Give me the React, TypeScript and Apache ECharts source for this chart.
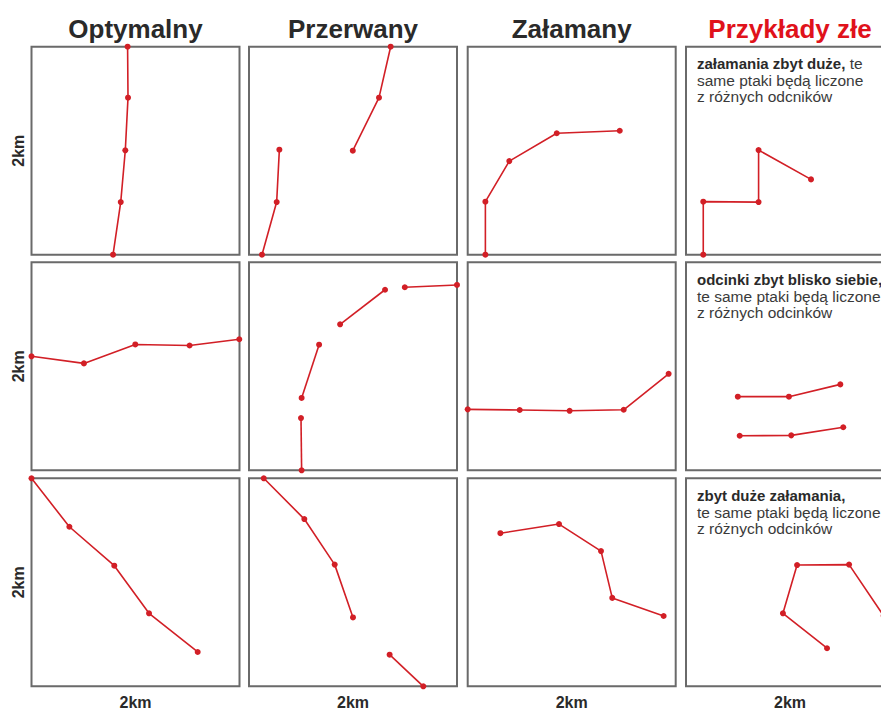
import React, { useEffect, useRef } from "react";
import * as echarts from "echarts";

const columnTitles = ["Optymalny", "Przerwany", "Załamany", "Przykłady złe"];
const axisLabel = "2km";

// Each panel: list of transect segments, points [x, y] in % of 2 km
const optimalTop = [[[46.2, 100], [46.4, 75.5], [45.1, 50.2], [42.9, 25.3], [39.2, 0]]];
const brokenTop = [
  [[68.1, 100], [62.5, 75.5], [49.9, 50]],
  [[14.6, 50.5], [13.3, 25.3], [6.25, 0]],
];
const bentTop = [[[8.5, 0], [8.5, 25.5], [20, 45], [42.8, 58.4], [73.1, 59.6]]];
const badTop = [[[8.3, 0], [8.3, 25.5], [34.9, 25.3], [34.9, 50.3], [60.1, 36.2]]];

const optimalMid = [[[0, 54.8], [25.2, 51.4], [49.9, 60.5], [76, 60], [99.9, 63]]];
const brokenMid = [
  [[25.3, 0], [25, 25.1]],
  [[25.3, 34.8], [33.7, 60.4]],
  [[43.8, 70.2], [65.4, 86.8]],
  [[74.9, 88], [100, 89.1]],
];
const bentMid = [[[0, 29.3], [25, 29], [49, 28.6], [75, 29.1], [96.6, 46.4]]];
const badMid = [
  [[24.9, 35.4], [49.5, 35.4], [74.2, 41.3]],
  [[25.8, 16.6], [50.6, 16.8], [75.6, 20.7]],
];

const optimalBot = [[[0, 100], [18.2, 76.7], [39.8, 58], [56.5, 35.1], [79.9, 16.5]]];
const brokenBot = [
  [[7.1, 100], [26.6, 80.4], [41.2, 58.5], [50, 33.1]],
  [[67.6, 15.2], [83.8, 0]],
];
const bentBot = [[[15.7, 73.6], [43.9, 78], [64.1, 65], [69.5, 42.5], [94.2, 33.8]]];
const badBot = [[[67.8, 18.3], [46.6, 35.1], [53.4, 58.3], [78.4, 58.5], [95, 33.9]]];

const panels = [
  [optimalTop, brokenTop, bentTop, badTop],
  [optimalMid, brokenMid, bentMid, badMid],
  [optimalBot, brokenBot, bentBot, badBot],
];

const badNotes = [
  ["załamania zbyt duże,", " te", "same ptaki będą liczone", "z różnych odcników"],
  ["odcinki zbyt blisko siebie,", "", "te same ptaki będą liczone", "z różnych odcinków"],
  ["zbyt duże załamania,", "", "te same ptaki będą liczone", "z różnych odcinków"],
];

const FONT = "'Liberation Sans', Arial, Helvetica, sans-serif";
const RED = "#d21f26";
const colLeft = [31.5, 249, 467.7, 686];
const rowTop = [46.7, 262.3, 478.3];
const SIZE = 208;

export default function App() {
  const ref = useRef<HTMLDivElement>(null);
  useEffect(() => {
    if (!ref.current) return;
    const chart = echarts.init(ref.current, null, { renderer: "svg" });
    const grid: any[] = [];
    const xAxis: any[] = [];
    const yAxis: any[] = [];
    const series: any[] = [];
    let idx = 0;
    panels.forEach((row, r) => {
      row.forEach((segments, c) => {
        grid.push({
          left: colLeft[c],
          top: rowTop[r],
          width: SIZE,
          height: SIZE,
          show: true,
          borderColor: "#6a6a6a",
          borderWidth: 2,
          backgroundColor: "#fff",
          containLabel: false,
        });
        xAxis.push({ type: "value", gridIndex: idx, min: 0, max: 100, show: false });
        yAxis.push({ type: "value", gridIndex: idx, min: 0, max: 100, show: false });
        segments.forEach((seg) => {
          series.push({
            type: "line",
            xAxisIndex: idx,
            yAxisIndex: idx,
            data: seg,
            clip: false,
            symbol: "circle",
            symbolSize: 6,
            showSymbol: true,
            lineStyle: { color: RED, width: 1.6 },
            itemStyle: { color: RED },
            silent: true,
            z: 3,
          });
        });
        idx++;
      });
    });

    const graphic: any[] = [];
    columnTitles.forEach((t, c) => {
      graphic.push({
        type: "text",
        x: colLeft[c] + SIZE / 2,
        y: 29,
        style: {
          text: t,
          font: `bold 26px ${FONT}`,
          fill: c === 3 ? "#e0121b" : "#2a2a2a",
          textAlign: "center",
          textVerticalAlign: "middle",
        },
      });
      graphic.push({
        type: "text",
        x: colLeft[c] + SIZE / 2,
        y: 702,
        style: {
          text: axisLabel,
          font: `bold 16px ${FONT}`,
          fill: "#2a2a2a",
          textAlign: "center",
          textVerticalAlign: "middle",
        },
      });
    });
    rowTop.forEach((t) => {
      graphic.push({
        type: "text",
        x: 18,
        y: t + SIZE / 2,
        rotation: Math.PI / 2,
        style: {
          text: axisLabel,
          font: `bold 16px ${FONT}`,
          fill: "#2a2a2a",
          textAlign: "center",
          textVerticalAlign: "middle",
        },
      });
    });
    badNotes.forEach((n, r) => {
      const [b, tail, l2, l3] = n;
      const first = tail ? `{b|${b}}{n|${tail}}` : `{b|${b}}`;
      graphic.push({
        type: "text",
        x: 697,
        y: rowTop[r] + 9,
        z: 10,
        style: {
          text: `${first}\n{n|${l2}}\n{n|${l3}}`,
          rich: {
            b: { font: `bold 15px ${FONT}`, fill: "#2a2a2a", lineHeight: 16.5 },
            n: { font: `15.5px ${FONT}`, fill: "#3a3a3a", lineHeight: 16.5 },
          },
        },
      });
    });

    chart.setOption({
      animation: false,
      backgroundColor: "#fff",
      grid,
      xAxis,
      yAxis,
      series,
      graphic,
    });
    return () => chart.dispose();
  }, []);
  return (
    <div
      ref={ref}
      style={{ position: "fixed", left: 0, top: 0, width: 900, height: 710, background: "#fff" }}
    />
  );
}
